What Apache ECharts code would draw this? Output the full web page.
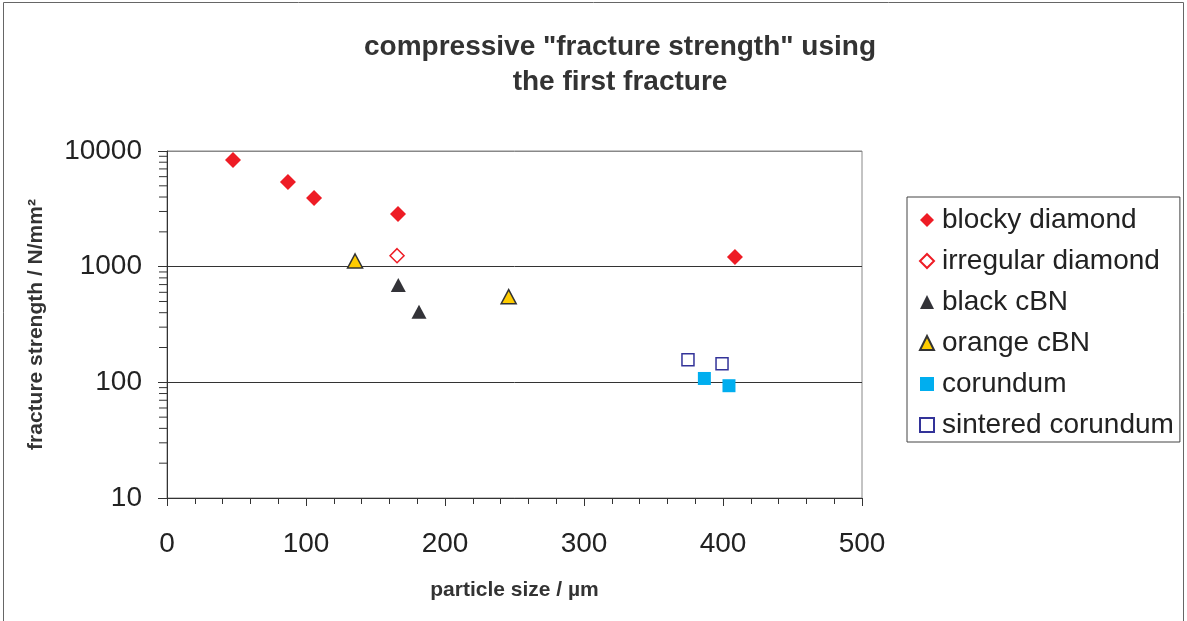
<!DOCTYPE html>
<html>
<head>
<meta charset="utf-8">
<script src="https://cdn.jsdelivr.net/npm/echarts@6/dist/echarts.min.js"></script>
<style>
  html, body { margin: 0; padding: 0; background: #fff; }
  #chart { width: 1187px; height: 621px; }
</style>
</head>
<body>
<div id="chart"></div>
<script>
// 数据：每个系列的 [粒径, 强度]
const blockyDiamond = [[47.5, 8360], [87, 5400], [105.8, 3920], [166.2, 2850], [408.6, 1215]];
const irregularDiamond = [[165.5, 1245]];
const blackCBN = [[166.4, 695], [181.3, 408]];
const orangeCBN = [[135.3, 1120], [245.8, 550]];
const corundum = [[386.6, 108], [404.3, 93.5]];
const sinteredCorundum = [[374.8, 157], [399.3, 145]];
// y 轴对数次刻度
const yMinorTicks = [20, 30, 40, 50, 60, 70, 80, 90, 200, 300, 400, 500, 600, 700, 800, 900, 2000, 3000, 4000, 5000, 6000, 7000, 8000, 9000];

(function () {
    let myChart = echarts.init(document.getElementById('chart'));
    const font = '"Liberation Sans", Arial, sans-serif';
    const ink = '#222';

    let option = {
        animation: false,
        backgroundColor: '#fff',
        textStyle: { fontFamily: font, color: ink },
        title: {
            text: 'compressive "fracture strength" using\nthe first fracture',
            left: 615,
            top: 25,
            textAlign: 'center',
            textStyle: { fontFamily: font, fontSize: 28, fontWeight: 'bold', color: '#333', lineHeight: 35 }
        },
        graphic: [{
            type: 'rect',
            silent: true,
            shape: { x: 3.5, y: 2.5, width: 1180, height: 700 },
            style: { fill: 'none', stroke: '#666', lineWidth: 1 }
        }],
        legend: {
            orient: 'vertical',
            left: 907,
            top: 197,
            padding: [7, 6, 1, 12],
            borderColor: '#444',
            borderWidth: 1,
            itemWidth: 14,
            itemHeight: 14,
            itemGap: 9,
            textStyle: { fontFamily: font, fontSize: 28, color: ink, lineHeight: 32, padding: [0, 0, 0, 3] },
            data: ['blocky diamond', 'irregular diamond', 'black cBN', 'orange cBN', 'corundum', 'sintered corundum']
        },
        grid: {
            left: 167,
            top: 151,
            right: 325,
            bottom: 123,
            show: true,
            borderColor: '#888',
            borderWidth: 1
        },
        xAxis: {
            type: 'value',
            min: 0,
            max: 500,
            interval: 100,
            name: 'particle size / µm',
            nameLocation: 'middle',
            nameGap: 82,
            nameTextStyle: { fontFamily: font, fontSize: 21, fontWeight: 'bold', color: '#333' },
            axisLine: { lineStyle: { color: '#333', width: 1 } },
            axisTick: { show: true, length: 8, lineStyle: { color: '#333' } },
            minorTick: { show: true, splitNumber: 5, length: 6, lineStyle: { color: '#333' } },
            axisLabel: { fontFamily: font, fontSize: 28, color: ink, margin: 32 },
            splitLine: { show: false }
        },
        yAxis: {
            type: 'log',
            logBase: 10,
            min: 10,
            max: 10000,
            name: 'fracture strength / N/mm²',
            nameLocation: 'middle',
            nameGap: 120,
            nameTextStyle: { fontFamily: font, fontSize: 21, fontWeight: 'bold', color: '#333' },
            axisLine: { show: true, lineStyle: { color: '#333', width: 1 } },
            axisTick: { show: true, length: 9, lineStyle: { color: '#333' } },
            axisLabel: {
                fontFamily: font, fontSize: 28, color: ink, margin: 25,
                formatter: function (v) { return String(Math.round(v)); }
            },
            splitLine: { show: true, lineStyle: { color: ['#333', '#333', '#333', '#888'], width: 1 } }
        },
        series: [
            {
                name: 'blocky diamond', type: 'scatter', symbol: 'diamond', symbolSize: 16,
                itemStyle: { color: '#ee1c25', opacity: 1 },
                data: blockyDiamond
            },
            {
                name: 'irregular diamond', type: 'scatter', symbol: 'diamond', symbolSize: 14,
                itemStyle: { color: '#fff', borderColor: '#ee1c25', borderWidth: 1.5, opacity: 1 },
                data: irregularDiamond
            },
            {
                name: 'black cBN', type: 'scatter', symbol: 'triangle', symbolSize: [15, 14],
                itemStyle: { color: '#333338', opacity: 1 },
                data: blackCBN
            },
            {
                name: 'orange cBN', type: 'scatter', symbol: 'triangle', symbolSize: [15, 14],
                itemStyle: { color: '#ffcc00', borderColor: '#333', borderWidth: 1.5, opacity: 1 },
                data: orangeCBN
            },
            {
                name: 'corundum', type: 'scatter', symbol: 'rect', symbolSize: 13,
                itemStyle: { color: '#00aeef', opacity: 1 },
                data: corundum
            },
            {
                name: 'sintered corundum', type: 'scatter', symbol: 'rect', symbolSize: 12,
                itemStyle: { color: '#fff', borderColor: '#333399', borderWidth: 1.5, opacity: 1 },
                data: sinteredCorundum
            },
            {
                // y 轴对数次刻度线
                type: 'custom',
                silent: true,
                clip: false,
                z: 1,
                data: yMinorTicks.map(function (v) { return [0, v]; }),
                renderItem: function (params, api) {
                    let p = api.coord([0, api.value(1)]);
                    return {
                        type: 'line',
                        shape: { x1: p[0] - 8, y1: p[1], x2: p[0], y2: p[1] },
                        style: { stroke: '#333', lineWidth: 1 }
                    };
                }
            }
        ]
    };

    myChart.setOption(option);

    window.addEventListener('resize', function () {
        myChart.resize();
    });
})();
</script>
</body>
</html>
